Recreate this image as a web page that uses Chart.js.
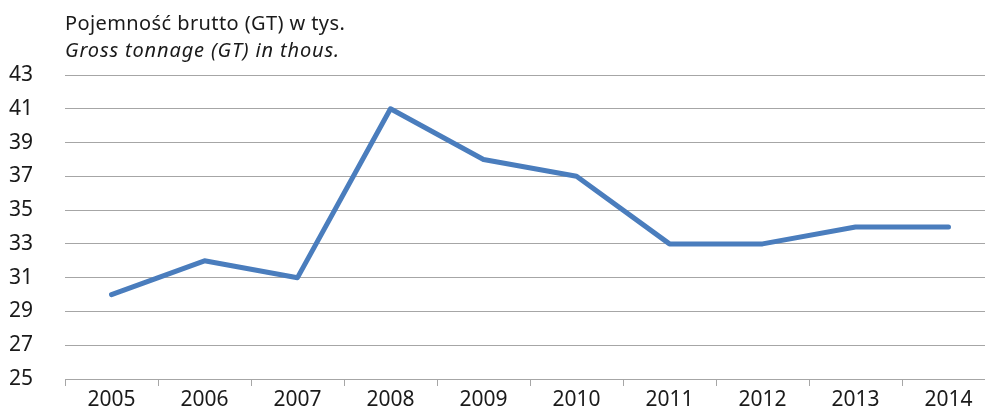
<!DOCTYPE html>
<html>
<head>
<meta charset="utf-8">
<script src="https://cdn.jsdelivr.net/npm/chart.js@4.4.1/dist/chart.umd.min.js"></script>
<style>
  html, body { margin: 0; padding: 0; background: #fff; overflow: hidden; }
  #wrap { position: relative; width: 995px; height: 409px; }
  .cap { position: absolute; left: 65px; font-family: 'Noto Sans', sans-serif; font-size: 20px; color: #1a1a1a; white-space: nowrap; }
  #cap1 { top: 9px; letter-spacing: 0.4px; }
  #cap2 { top: 36px; font-style: italic; letter-spacing: 0.85px; }
</style>
</head>
<body>
<div id="wrap">
  <div class="cap" id="cap1">Pojemność brutto (GT) w tys.</div>
  <div class="cap" id="cap2">Gross tonnage (GT) in thous.</div>
  <canvas id="tonnageChart" width="995" height="409"></canvas>
</div>
<script>
// Gross tonnage by year
const years = ['2005', '2006', '2007', '2008', '2009', '2010', '2011', '2012', '2013', '2014'];
const tonnage = [30, 32, 31, 41, 38, 37, 33, 33, 34, 34];
const yMin = 25, yMax = 43, yStep = 2;

const colors = { line: '#4a7dbd', grid: '#a6a6a6', text: '#1a1a1a' };

Chart.defaults.font.family = "'Noto Sans', sans-serif";
Chart.defaults.font.size = 21;
Chart.defaults.color = colors.text;

new Chart(document.getElementById('tonnageChart'), {
  type: 'line',
  data: {
    labels: years,
    datasets: [{
      data: tonnage,
      borderColor: colors.line,
      borderWidth: 5,
      borderCapStyle: 'round',
      borderJoinStyle: 'round',
      pointRadius: 0,
      tension: 0,
      fill: false
    }]
  },
  options: {
    responsive: false,
    animation: false,
    layout: { padding: { top: 75, right: 0, bottom: 0, left: 0 } },
    plugins: { legend: { display: false }, tooltip: { enabled: false } },
    scales: {
      x: {
        offset: true,
        grid: { offset: true, drawOnChartArea: false, drawTicks: true, tickLength: 7, color: colors.grid },
        border: { display: true, color: colors.grid, width: 1 },
        ticks: { padding: 1, maxRotation: 0 },
        afterFit: s => { s.height = 30; }
      },
      y: {
        min: yMin, max: yMax,
        grid: { drawTicks: false, color: colors.grid, lineWidth: 1 },
        border: { display: false },
        ticks: { stepSize: yStep, padding: 32 },
        afterFit: s => { s.width = 65; s.paddingTop = 0; s.paddingBottom = 0; }
      }
    }
  }
});
</script>
</body>
</html>
